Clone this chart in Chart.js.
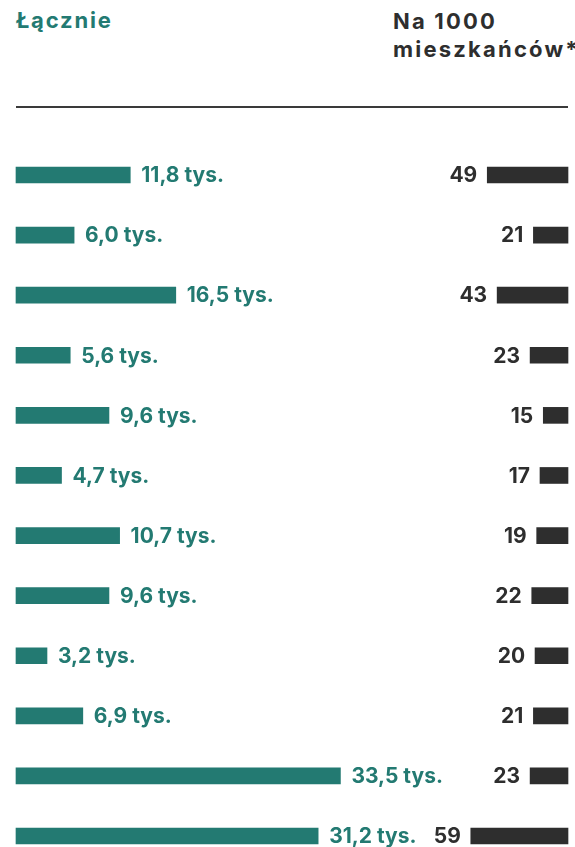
<!DOCTYPE html>
<html lang="pl">
<head>
<meta charset="utf-8">
<script src="https://cdn.jsdelivr.net/npm/chart.js@4"></script>
<style>
  body { margin: 0; background: #fff; font-family: Inter, "Open Sans", sans-serif; }
  .wrap { position: relative; width: 575px; height: 847px; overflow: hidden; }
  .head-left { position: absolute; left: 16px; top: 7px; font-size: 22px; font-weight: 700; color: #237a72; letter-spacing: 1.8px; }
  .head-right { position: absolute; left: 393px; top: 7px; font-size: 22px; font-weight: 700; color: #2e2e2e; line-height: 28px; letter-spacing: 2.2px; white-space: nowrap; }
  .rule { position: absolute; left: 16px; top: 106px; width: 552px; height: 0; border-top: 2px solid #3a3a3a; }
  canvas { position: absolute; left: 0; top: 0; }
</style>
</head>
<body>
<div class="wrap">
  <div class="head-left">Łącznie</div>
  <div class="head-right">Na 1000<br>mieszkańców*</div>
  <div class="rule"></div>
  <canvas id="bars" width="575" height="847"></canvas>
</div>
<script>
// Dane
const categories = ['1', '2', '3', '4', '5', '6', '7', '8', '9', '10', '11', '12'];
const totalThousands = [11.8, 6.0, 16.5, 5.6, 9.6, 4.7, 10.7, 9.6, 3.2, 6.9, 33.5, 31.2];
const per1000 = [49, 21, 43, 23, 15, 17, 19, 22, 20, 21, 23, 59];

const green = '#237a72';
const dark = '#2e2e2e';
const labelFont = '700 21px Inter, "Open Sans", sans-serif';

// etykiety przy końcach słupków
const barLabels = {
  id: 'barLabels',
  afterDatasetsDraw(chart) {
    const c = chart.ctx;
    c.save();
    c.font = labelFont;
    c.textBaseline = 'middle';
    chart.getDatasetMeta(0).data.forEach((bar, i) => {
      c.fillStyle = green;
      c.textAlign = 'left';
      c.fillText(totalThousands[i].toFixed(1).replace('.', ',') + ' tys.', bar.x + 11, bar.y + 1);
    });
    chart.getDatasetMeta(1).data.forEach((bar, i) => {
      c.fillStyle = dark;
      c.textAlign = 'right';
      c.fillText(String(per1000[i]), bar.x - 10, bar.y + 1);
    });
    c.restore();
  }
};

new Chart(document.getElementById('bars'), {
  type: 'bar',
  data: {
    labels: categories,
    datasets: [
      {
        label: 'Łącznie',
        data: totalThousands,
        backgroundColor: green,
        xAxisID: 'x',
        grouped: false,
        barThickness: 16,
        clip: false
      },
      {
        label: 'Na 1000 mieszkańców',
        data: per1000,
        backgroundColor: dark,
        xAxisID: 'x2',
        grouped: false,
        barThickness: 16,
        clip: false
      }
    ]
  },
  options: {
    indexAxis: 'y',
    responsive: false,
    animation: false,
    layout: { padding: { left: 16, right: 7, top: 175, bottom: 11 } },
    scales: {
      x: { display: false, min: 0, max: 57 },
      x2: { display: false, min: 0, max: 335, reverse: true },
      y: { display: false, offset: false }
    },
    plugins: {
      legend: { display: false },
      tooltip: { enabled: false }
    }
  },
  plugins: [barLabels]
});
</script>
</body>
</html>
